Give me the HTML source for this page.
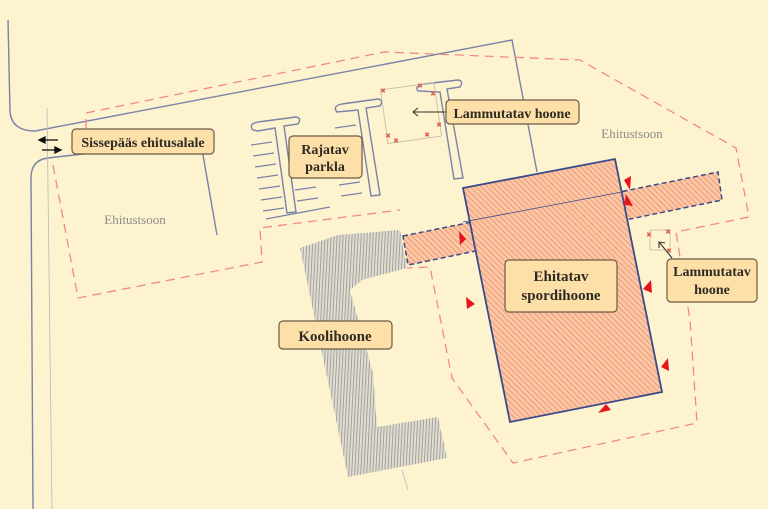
<!DOCTYPE html>
<html><head><meta charset="utf-8"><style>
html,body{margin:0;padding:0;background:#fdf3cf;}
svg{display:block}
.lbl{font-family:"Liberation Serif",serif;font-weight:bold;fill:#2e2a24;}
.zone{font-family:"Liberation Serif",serif;fill:#8c8c8c;font-size:13px;}
</style></head><body>
<svg width="768" height="509" viewBox="0 0 768 509" xmlns="http://www.w3.org/2000/svg">
<defs>
<pattern id="hatch" width="4" height="4" patternUnits="userSpaceOnUse" patternTransform="rotate(-45)">
<rect width="4" height="4" fill="#fbc8a6"/><line x1="0" y1="0" x2="0" y2="4" stroke="#e8805e" stroke-width="1.3"/>
</pattern>
<pattern id="vstripe" width="3" height="3" patternUnits="userSpaceOnUse" patternTransform="rotate(3)">
<rect width="3" height="3" fill="#e2ddcc"/><line x1="1" y1="0" x2="1" y2="3" stroke="#9a9aa0" stroke-width="0.9"/>
</pattern>
</defs>
<rect width="768" height="509" fill="#fdf3cf"/>
<!-- roads -->
<g fill="none" stroke="#7a82a8" stroke-width="1.4">
<path d="M8,20 L10,112 Q12,131 35,131 L512,40 L537,172"/>
<path d="M33,509 L31,178 Q31,160 48,158 L100,152"/>
<line x1="200" y1="138" x2="217" y2="235"/>
<line x1="47" y1="108" x2="52" y2="509" stroke="#b8b8c0" stroke-width="0.8"/>
<line x1="402" y1="470" x2="408" y2="490" stroke="#b8b8c0" stroke-width="0.8"/>
<!-- parking T shapes -->
<path d="M253,130 Q248,124 258,122 L296,117 Q302,118 298,124 L284,126 L296,212 L287,213 L275,128 L258,131 Z"/>
<path d="M337,112 Q332,106 342,104 L378,99 Q384,100 380,106 L366,108 L380,195 L371,196 L358,110 Z"/>
<path d="M418,91 Q414,86 424,84 L458,80 Q464,81 460,87 L447,89 L463,178 L454,179 L440,92 Z"/>
<g stroke-width="1.2">
<line x1="251" y1="145" x2="272" y2="142"/><line x1="253" y1="156" x2="274" y2="153"/><line x1="255" y1="167" x2="276" y2="164"/>
<line x1="257" y1="178" x2="278" y2="175"/><line x1="259" y1="189" x2="280" y2="186"/><line x1="261" y1="200" x2="282" y2="197"/><line x1="263" y1="211" x2="284" y2="208"/>
<line x1="295" y1="190" x2="316" y2="187"/><line x1="297" y1="201" x2="318" y2="198"/>
<line x1="335" y1="128" x2="356" y2="125"/><line x1="337" y1="139" x2="358" y2="136"/><line x1="339" y1="185" x2="360" y2="182"/><line x1="341" y1="196" x2="362" y2="193"/>
<line x1="266" y1="219" x2="330" y2="207"/>
</g>
</g>
<!-- dashed zones -->
<g fill="none" stroke="#f08a8a" stroke-width="1.3" stroke-dasharray="9,6">
<path d="M86,128 L86,113 L384,52 L580,60 L736,148 L749,217 L676,232 L690,320 L697,423 L513,463 L452,378 L430,267 L407,268"/>
<path d="M53,165 L78,298 L262,262 L260,228 L400,210"/>
</g>
<!-- demolished buildings -->
<g fill="none" stroke="#c8b8a8" stroke-width="0.8">
<rect x="384" y="86" width="54" height="54" transform="rotate(-8 411 113)"/>
<rect x="650" y="230" width="20" height="20"/>
</g>
<g stroke="#e06050" stroke-width="1" font-size="7" fill="#e06050" font-family="Liberation Sans,sans-serif">
<text x="381" y="93">×</text><text x="418" y="88">×</text><text x="431" y="96">×</text><text x="437" y="127">×</text><text x="425" y="137">×</text><text x="386" y="138">×</text><text x="394" y="143">×</text>
<text x="647" y="237">×</text><text x="666" y="234">×</text><text x="667" y="253">×</text>
</g>
<!-- school -->
<polygon points="300,248 338,235 400,230 407,268 362,280 350,290 373,373 377,427 438,417 447,458 348,477" fill="url(#vstripe)"/>
<!-- sports -->
<polygon points="403,236 718,172 722,200 408,265" fill="url(#hatch)" stroke="#3a4a8a" stroke-width="1.5" stroke-dasharray="5,3"/>
<polygon points="463,188 615,159 662,392 510,422" fill="url(#hatch)" stroke="#3a4a8a" stroke-width="1.8"/>
<line x1="463" y1="222" x2="627" y2="191" stroke="#3a4a8a" stroke-width="0.8"/>
<!-- red triangles -->
<g fill="#e8141c">
<polygon points="624,180 631,176 630,190"/><polygon points="626,194 633,206 624,205"/>
<polygon points="459,231 466,239 460,245"/><polygon points="466,297 475,304 467,309"/>
<polygon points="643,289 651,280 652,293"/><polygon points="661,367 668,358 669,371"/>
<polygon points="598,413 611,410 606,404"/>
</g>
<!-- arrows at entrance -->
<g stroke="#111" stroke-width="1.3" fill="#111">
<line x1="44" y1="140" x2="58" y2="140"/><polygon points="39,140 45,137 45,143"/>
<line x1="42" y1="150" x2="56" y2="150"/><polygon points="61,150 55,147 55,153"/>
</g>
<!-- labels -->
<g fill="#fde0a8" stroke="#6b5a45" stroke-width="1.2">
<rect x="72" y="129" width="142" height="25" rx="4"/>
<rect x="289" y="136" width="73" height="42" rx="4"/>
<rect x="446" y="100" width="133" height="24" rx="4"/>
<rect x="667" y="259" width="90" height="43" rx="4"/>
<rect x="505" y="260" width="112" height="52" rx="4"/>
<rect x="279" y="321" width="113" height="28" rx="4"/>
</g>
<g stroke="#333" stroke-width="1.1" fill="none">
<line x1="446" y1="112" x2="413" y2="112"/><path d="M418,108 L413,112 L418,116"/>
<line x1="672" y1="258" x2="659" y2="242"/><path d="M659,248 L659,242 L665,243"/>
</g>
<text class="lbl" x="143" y="147" font-size="14" text-anchor="middle">Sissepääs ehitusalale</text>
<text class="lbl" x="325" y="154" font-size="14" text-anchor="middle">Rajatav</text>
<text class="lbl" x="325" y="171" font-size="14" text-anchor="middle">parkla</text>
<text class="lbl" x="512" y="118" font-size="14" text-anchor="middle">Lammutatav hoone</text>
<text class="lbl" x="712" y="276" font-size="14" text-anchor="middle">Lammutatav</text>
<text class="lbl" x="712" y="294" font-size="14" text-anchor="middle">hoone</text>
<text class="lbl" x="561" y="281" font-size="15" text-anchor="middle">Ehitatav</text>
<text class="lbl" x="561" y="300" font-size="15" text-anchor="middle">spordihoone</text>
<text class="lbl" x="335" y="341" font-size="15" text-anchor="middle">Koolihoone</text>
<text class="zone" x="135" y="224" text-anchor="middle">Ehitustsoon</text>
<text class="zone" x="632" y="138" text-anchor="middle">Ehitustsoon</text>
</svg>
</body></html>
